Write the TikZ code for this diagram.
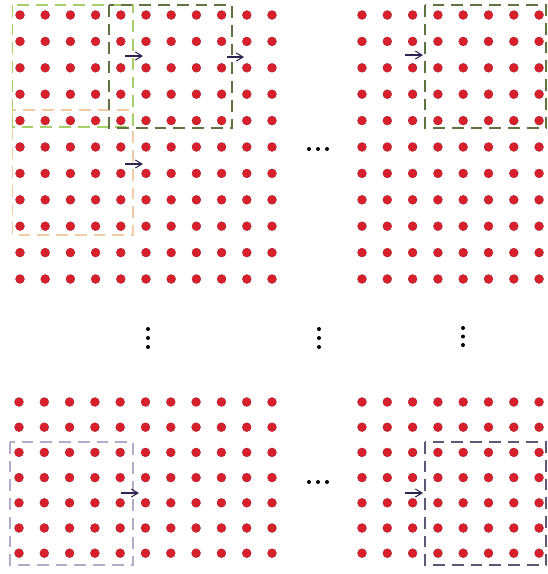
\documentclass[tikz,border=0pt]{standalone}
\usepackage{xcolor}
\usetikzlibrary{arrows.meta, positioning}
\definecolor{cdot}{HTML}{D8202C}
\definecolor{carr}{HTML}{2E2450}
\definecolor{cgreen}{HTML}{A6D06A}
\definecolor{colive}{HTML}{5E7442}
\definecolor{cpeach}{HTML}{F0CCA4}
\definecolor{clav}{HTML}{B4AACB}
\definecolor{cslate}{HTML}{5E5674}

\begin{document}
\begin{tikzpicture}[
  x=0.03cm, y=-0.03cm,
  >={Straight Barb[length=2mm, width=2.4mm]},
  dot/.style={circle, fill=cdot, draw=cdot!70!black, line width=0.2pt, inner sep=0pt, minimum size=2.7mm},
  win/.style={line width=1.6pt, dash pattern=on 10pt off 6pt},
  arr/.style={->, line width=0.9pt, draw=carr},
  ell/.style={circle, fill=black, inner sep=0pt, minimum size=1.2mm},
  ]
\useasboundingbox (0,0) rectangle (548,574);

% dot grids
\foreach \i in {0,...,10} \foreach \j in {0,...,10}
  \node[dot] (tl-\i-\j) at (20+25.2*\i, 15+26.4*\j) {};
\foreach \i in {0,...,7} \foreach \j in {0,...,10}
  \node[dot] (tr-\i-\j) at (362+25.3*\i, 15+26.4*\j) {};
\foreach \i in {0,...,10} \foreach \j in {0,...,6}
  \node[dot] (bl-\i-\j) at (19+25.3*\i, 402+25.2*\j) {};
\foreach \i in {0,...,7} \foreach \j in {0,...,6}
  \node[dot] (br-\i-\j) at (362+25.3*\i, 402+25.2*\j) {};

% sliding windows
\draw[win, draw=cpeach] (12.5,110) rectangle (133,235);
\draw[win, draw=cgreen] (12.5,5) rectangle (133,127);
\draw[win, draw=colive] (109,5) rectangle (232,128);
\draw[win, draw=colive] (425,5) rectangle (546,128);
\draw[win, draw=clav] (10,442) rectangle (133,565);
\draw[win, draw=cslate] (425,442) rectangle (546,565);

% strides
\coordinate (s1) at (125,56);  \coordinate (e1) at (143,56);
\coordinate (s2) at (227,57);  \coordinate (e2) at (244,57);
\coordinate (s3) at (125,164); \coordinate (e3) at (143,164);
\coordinate (s4) at (405,55);  \coordinate (e4) at (423,55);
\coordinate (s5) at (121,493); \coordinate (e5) at (139,493);
\coordinate (s6) at (405,493); \coordinate (e6) at (423,493);
\foreach \k in {1,...,6}
  \draw[arr] (s\k) -- (e\k);

% ellipses
\foreach \k in {0,1,2} {
  \node[ell] at (309+9*\k, 149) {};
  \node[ell] at (309+9*\k, 482) {};
  \node[ell] at (148, 329+9*\k) {};
  \node[ell] at (319, 329+9*\k) {};
  \node[ell] at (463, 328+8.5*\k) {};
}
\end{tikzpicture}
\end{document}
